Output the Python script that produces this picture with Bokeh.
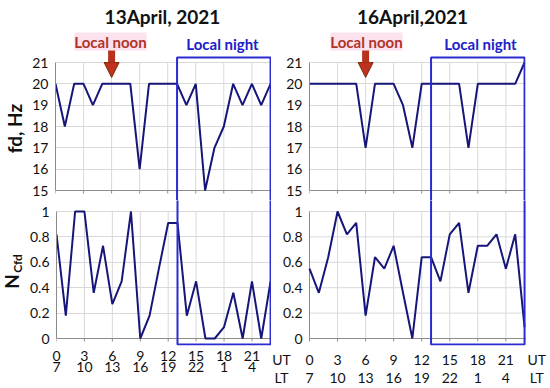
from bokeh.plotting import figure
from bokeh.models import FixedTicker, Label, Arrow, NormalHead, LinearAxis, Range1d
from bokeh.layouts import column, row
from bokeh.core.properties import value
from bokeh.embed import file_html
from bokeh.resources import INLINE
import math

# ---------------- data ----------------
hours = list(range(24))
ut_ticks = [0, 3, 6, 9, 12, 15, 18, 21]
lt_labels = ["7", "10", "13", "16", "19", "22", "1", "4"]
fd_ticks = [15, 16, 17, 18, 19, 20, 21]
n_ticks = [0, 0.2, 0.4, 0.6, 0.8, 1]
n_tick_labels = ["0", "0.2", "0.4", "0.6", "0.8", "1"]

fd_13 = [20, 18, 20, 20, 19, 20, 20, 20, 20, 16, 20, 20, 20, 20, 19, 20, 15, 17, 18, 20, 19, 20, 19, 20]
n_13 = [0.82, 0.18, 1.0, 1.0, 0.36, 0.73, 0.27, 0.45, 1.0, 0.0, 0.18, 0.55, 0.91, 0.91,
        0.18, 0.45, 0.0, 0.0, 0.09, 0.36, 0.0, 0.45, 0.0, 0.45]
fd_16 = [20, 20, 20, 20, 20, 20, 17, 20, 20, 20, 19, 17, 20, 20, 20, 20, 20, 17, 20, 20, 20, 20, 20, 21]
n_16 = [0.55, 0.36, 0.64, 1.0, 0.82, 0.91, 0.18, 0.64, 0.55, 0.73, 0.36, 0.0, 0.64, 0.64,
        0.45, 0.82, 0.91, 0.36, 0.73, 0.73, 0.82, 0.55, 0.82, 0.09]

titles = ["13April, 2021", "16April,2021"]
noon_hour = 6
night_start, night_end = 13, 23
row_captions = ["UT", "LT"]

# ---------------- styles ----------------
FONT = "Lato"
TXT_C = "#111111"
LINE_C = "#16167A"
GRID_C = "#D9D9D9"
AXIS_C = "#8C8C8C"
BOX_C = "#2B2BD2"
NOON_C = "#B0342A"
NIGHT_C = "#2020C8"
X_END = 23.1
PXH = 216 / X_END          # px per hour
TOP_PX = 128 / 6           # px per Hz   (21 -> y 62, 15 -> y 190)
BOT_PX = 127.0             # px per unit (1 -> y 211, 0 -> y 338)
CAP_L, CAP_R = -3, 24.3    # caption positions (hours) beside the tick rows
UT_STANDOFF, LT_STANDOFF = 5, -2


def ty(page_y):
    return 21 - (page_y - 62) / TOP_PX


def by(page_y):
    return (338 - page_y) / BOT_PX


def style_yaxis(ax, ticks, bounds):
    ax.ticker = FixedTicker(ticks=ticks)
    ax.bounds = bounds
    ax.axis_line_color = AXIS_C
    ax.major_tick_out = 0
    ax.major_tick_in = 0
    ax.minor_tick_line_color = None
    ax.major_tick_line_color = None
    ax.major_label_standoff = 7
    ax.major_label_text_font = FONT
    ax.major_label_text_font_size = "14px"
    ax.major_label_text_color = TXT_C


def base(p):
    p.outline_line_color = None
    p.background_fill_color = "white"
    p.border_fill_color = "white"
    for g in p.xgrid:
        g.visible = False


def top_fig(fd, title, ml, mr, width, noon_x, night_x, title_x):
    p = figure(width=width, height=200, x_range=Range1d(0, X_END),
               y_range=Range1d(ty(200), ty(0)),
               output_backend="svg", toolbar_location=None, x_axis_location=None,
               min_border_left=ml, min_border_right=mr, min_border_top=0, min_border_bottom=0)
    base(p)
    p.ygrid.ticker = FixedTicker(ticks=fd_ticks)
    p.ygrid.grid_line_color = GRID_C
    style_yaxis(p.yaxis[0], fd_ticks, (fd_ticks[0], fd_ticks[-1]))
    p.segment(x0=ut_ticks[1:], y0=fd_ticks[0], x1=ut_ticks[1:], y1=fd_ticks[-1],
              line_color=GRID_C, line_width=1)
    p.segment(x0=[0], y0=[fd_ticks[0]], x1=[X_END], y1=[fd_ticks[0]], line_color=AXIS_C, line_width=1)
    p.segment(x0=ut_ticks, y0=fd_ticks[0], x1=ut_ticks, y1=fd_ticks[0] - 3 / TOP_PX,
              line_color=AXIS_C, line_width=1)
    p.line(hours, fd, line_color=LINE_C, line_width=2)
    p.quad(left=[night_start], right=[night_end], bottom=[10], top=[ty(57)],
           fill_color=None, line_color=BOX_C, line_width=2)
    p.add_layout(Label(x=title_x, y=ty(16), text=title, text_font=FONT,
                       text_font_size="19px", text_font_style="bold", text_color=TXT_C,
                       text_align="center", text_baseline="middle"))
    p.add_layout(Label(x=noon_x, y=ty(41), text="Local noon", text_font=FONT,
                       text_font_size="15px", text_font_style="bold", text_color=NOON_C,
                       text_align="center", text_baseline="middle",
                       background_fill_color="#FCE1EE"))
    p.add_layout(Label(x=night_x, y=ty(43), text="Local night", text_font=FONT,
                       text_font_size="15px", text_font_style="bold", text_color=NIGHT_C,
                       text_align="center", text_baseline="middle"))
    p.add_layout(Arrow(x_start=noon_hour, y_start=ty(50), x_end=noon_hour, y_end=ty(77),
                       line_color="#B8311F", line_width=7,
                       end=NormalHead(size=15, fill_color="#C0301E", line_color="#7A3010",
                                      line_width=1)))
    return p


def lt_axis(ticks, overrides):
    return LinearAxis(ticker=FixedTicker(ticks=ticks), major_label_overrides=overrides,
                      axis_line_color=None, major_tick_out=0, major_tick_in=0,
                      minor_tick_line_color=None, major_tick_line_color=None,
                      major_label_standoff=LT_STANDOFF, major_label_text_font=FONT,
                      major_label_text_font_size="14px", major_label_text_color=TXT_C)


def style_xaxis(ax, ticks, overrides):
    ax.ticker = FixedTicker(ticks=ticks)
    ax.major_label_overrides = overrides
    ax.axis_line_color = None
    ax.major_tick_out = 0
    ax.major_tick_in = 0
    ax.minor_tick_line_color = None
    ax.major_tick_line_color = None
    ax.major_label_standoff = UT_STANDOFF
    ax.major_label_text_font = FONT
    ax.major_label_text_font_size = "14px"
    ax.major_label_text_color = TXT_C


def bottom_common(p, n):
    p.segment(x0=ut_ticks[1:], y0=n_ticks[0], x1=ut_ticks[1:], y1=n_ticks[-1],
              line_color=GRID_C, line_width=1)
    p.segment(x0=[0], y0=[n_ticks[0]], x1=[X_END], y1=[n_ticks[0]], line_color=AXIS_C, line_width=1)
    p.segment(x0=ut_ticks, y0=n_ticks[0], x1=ut_ticks, y1=n_ticks[0] - 3 / BOT_PX,
              line_color=AXIS_C, line_width=1)
    p.line(hours, n, line_color=LINE_C, line_width=2)
    p.quad(left=[night_start], right=[night_end], bottom=[by(344)], top=[2],
           fill_color=None, line_color=BOX_C, line_width=2)


# ---- bottom left: standard axes ----
bl = figure(width=245, height=188, x_range=Range1d(0, X_END), y_range=Range1d(by(345), by(200)),
            output_backend="svg", toolbar_location=None,
            min_border_left=29, min_border_right=0, min_border_top=0, min_border_bottom=43)
base(bl)
bl.ygrid.ticker = FixedTicker(ticks=n_ticks)
bl.ygrid.grid_line_color = GRID_C
style_yaxis(bl.yaxis[0], n_ticks, (n_ticks[0], n_ticks[-1]))
bl.yaxis[0].major_label_overrides = {t: l for t, l in zip(n_ticks, n_tick_labels)}
style_xaxis(bl.xaxis[0], ut_ticks, {})
bl.add_layout(lt_axis(ut_ticks, {t: l for t, l in zip(ut_ticks, lt_labels)}), "below")
bottom_common(bl, n_13)

# ---- bottom right: frame widened so the UT/LT captions sit in its tick rows ----
br = figure(width=277, height=188, x_range=Range1d(-(309 - 271) / PXH, (548 - 309) / PXH),
            y_range=Range1d(by(345), by(200)), y_axis_location=None,
            output_backend="svg", toolbar_location=None,
            min_border_left=0, min_border_right=0, min_border_top=0, min_border_bottom=43)
base(br)
for g in br.ygrid:
    g.visible = False
br.segment(x0=0, y0=n_ticks, x1=X_END, y1=n_ticks, line_color=GRID_C, line_width=1)
br.segment(x0=[0], y0=[n_ticks[0]], x1=[0], y1=[n_ticks[-1]], line_color=AXIS_C, line_width=1)
br.text(x=0, y=n_ticks, text=n_tick_labels, x_offset=-7, text_align="right",
        text_baseline="middle", text_font=value(FONT), text_font_size="14px", text_color=TXT_C)
cap_ticks = [CAP_L] + ut_ticks + [CAP_R]
ut_over = {CAP_L: row_captions[0], CAP_R: row_captions[0]}
lt_over = {t: l for t, l in zip(ut_ticks, lt_labels)}
lt_over.update({CAP_L: row_captions[1], CAP_R: row_captions[1]})
style_xaxis(br.xaxis[0], cap_ticks, ut_over)
br.add_layout(lt_axis(cap_ticks, lt_over), "below")
bottom_common(br, n_16)

tl = top_fig(fd_13, titles[0], 29, 0, 245, (110 - 55) / PXH, (222 - 55) / PXH, (162 - 55) / PXH)
tr = top_fig(fd_16, titles[1], 38, 23, 277, (366 - 309) / PXH, (480 - 309) / PXH, (412 - 309) / PXH)

# ---- narrow strip on the left for the y-axis titles ----
strip = figure(width=26, height=388, x_range=Range1d(0, 26), y_range=Range1d(388, 0),
               output_backend="svg", toolbar_location=None, x_axis_location=None,
               y_axis_location=None, min_border=0)
strip.outline_line_color = None
strip.grid.visible = False
strip.background_fill_color = "white"
strip.border_fill_color = "white"
strip.text(x=[14], y=[128], text=["fd, Hz"], angle=math.pi / 2, text_align="center",
           text_baseline="middle", text_font=value(FONT), text_font_size="19px",
           text_font_style="bold", text_color=TXT_C)
strip.text(x=[11], y=[281], text=["N"], angle=math.pi / 2, text_align="center",
           text_baseline="middle", text_font=value(FONT), text_font_size="19px",
           text_font_style="bold", text_color=TXT_C)
strip.text(x=[17], y=[263], text=["Cfd"], angle=math.pi / 2, text_align="center",
           text_baseline="middle", text_font=value(FONT), text_font_size="12px",
           text_font_style="bold", text_color=TXT_C)

layout = row(strip, column(row(tl, tr), row(bl, br)))
open("out.html", "w").write(file_html(layout, INLINE))
